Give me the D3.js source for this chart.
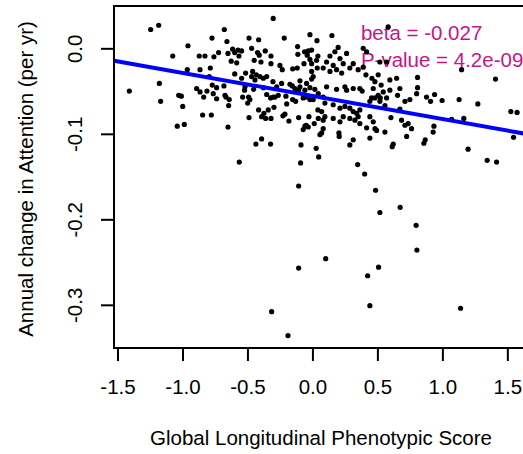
<!DOCTYPE html>
<html>
<head>
<meta charset="utf-8">
<script src="https://cdn.jsdelivr.net/npm/d3@7"></script>
<style>
  body { margin: 0; background: #fff; }
  svg { display: block; font-family: "Liberation Sans", Arial, sans-serif; }
</style>
</head>
<body>
<svg id="chart" width="523" height="454"></svg>
<script>
// data (score, annual change)
var scoreX = [
  -0.302,-1.245,-1.183,-0.678,-0.773,-0.658,-0.488,-0.414,-0.217,-0.019,0.035,-0.958,-1.075,-0.871,-0.827,-0.758,
  -0.722,-0.650,-0.614,-0.598,-0.573,-0.545,-0.625,-0.583,-0.468,-0.422,-0.363,-0.319,-0.448,-0.396,-0.319,-0.250,
  -0.232,-0.152,-0.114,-0.112,-0.060,-0.040,-0.019,-0.065,-0.117,0.042,-0.963,-0.865,-0.786,-0.794,-0.598,-0.514,
  -0.460,-0.432,-0.352,-0.304,-0.237,-0.155,-0.096,-0.045,0.006,-1.409,-1.178,-1.168,-1.029,-1.009,-0.998,-0.891,
  -0.865,-0.837,-0.812,-0.763,-0.737,-0.771,-0.737,-0.681,-0.665,-0.640,-0.645,-0.537,-0.491,-0.498,-0.522,-0.452,
  -0.352,-0.322,-0.288,-0.204,-0.129,-0.106,-0.071,-0.019,-0.845,-0.778,-1.040,-0.986,-0.650,-0.488,-0.414,-0.373,
  -0.360,-0.319,-0.296,-0.227,-0.212,-0.181,-0.106,-0.048,-0.027,0.014,0.042,-0.435,-0.391,-0.322,-0.088,0.029,
  0.048,-0.563,-0.091,0.058,-0.106,-0.106,-0.314,-0.188,0.348,0.402,0.486,0.519,0.675,0.798,0.804,0.102,
  0.509,0.425,0.442,1.140,1.345,1.417,0.583,0.150,1.148,1.409,0.809,0.809,0.878,0.940,0.998,0.909,
  1.129,1.273,1.165,1.071,1.527,1.575,1.548,1.198,0.935,0.929,0.868,0.858,0.725,0.737,0.686,0.655,
  0.673,0.604,0.622,0.614,0.519,0.522,0.558,0.481,0.442,0.417,0.314,0.288,0.204,0.206,0.083,0.071,
  -0.058,-0.071,0.506,0.529,0.481,0.458,0.412,0.365,0.383,0.391,0.519,-0.565,-0.409,-0.032,-0.006,-0.006,
  0.032,0.037,-0.006,-0.468,-0.442,-0.404,-0.378,-0.545,-0.173,-0.006,0.198,0.173,0.135,0.212,0.263,0.237,
  0.160,0.109,0.083,0.135,0.186,0.225,0.288,0.314,0.352,0.417,0.391,0.571,0.596,0.648,-0.135,-0.096,
  -0.058,-0.019,0.019,0.045,-0.519,-0.378,-0.275,-0.673,-0.481,-0.302,-0.263,-0.152,-0.050,0.006,-0.198,-0.391,
  -0.340,-0.032,0.045,0.109,0.186,0.250,0.263,0.314,0.468,0.506,0.545,0.571,0.596,0.673,0.712,0.750,
  0.802,0.083,0.096,0.160,0.212,0.250,0.288,0.314,0.340,0.365,0.442,0.455,0.071,0.096,0.083,0.160,
  0.212,0.237,0.288,0.327,0.352,0.365,0.481,0.494,0.468,0.712,0.763,0.558,0.442
];
var changeY = [
  0.035,0.022,0.027,0.022,0.012,0.008,0.012,0.010,0.012,0.016,0.009,0.003,-0.009,-0.009,-0.009,-0.010,
  -0.005,-0.006,-0.001,-0.005,-0.002,-0.003,-0.015,-0.017,0.000,-0.005,-0.003,-0.009,-0.014,-0.016,-0.018,-0.020,
  -0.025,-0.024,0.002,-0.007,-0.004,-0.008,-0.013,-0.018,-0.023,-0.009,-0.025,-0.025,-0.023,-0.033,-0.030,-0.029,
  -0.027,-0.031,-0.033,-0.039,-0.041,-0.044,-0.038,-0.041,-0.033,-0.050,-0.041,-0.062,-0.055,-0.056,-0.068,-0.047,
  -0.051,-0.057,-0.050,-0.053,-0.059,-0.043,-0.046,-0.044,-0.057,-0.060,-0.067,-0.057,-0.057,-0.064,-0.049,-0.048,
  -0.054,-0.058,-0.057,-0.056,-0.062,-0.049,-0.058,-0.060,-0.078,-0.078,-0.091,-0.089,-0.092,-0.081,-0.072,-0.076,
  -0.082,-0.082,-0.069,-0.079,-0.077,-0.085,-0.081,-0.090,-0.080,-0.088,-0.072,-0.112,-0.106,-0.112,-0.113,-0.117,
  -0.127,-0.133,-0.134,-0.101,-0.161,-0.257,-0.308,-0.336,-0.136,-0.147,-0.166,-0.192,-0.186,-0.207,-0.236,-0.246,
  -0.256,-0.266,-0.301,-0.304,-0.131,-0.133,0.025,0.015,-0.025,-0.036,-0.034,-0.046,-0.057,-0.054,-0.061,-0.062,
  -0.060,-0.065,-0.082,-0.083,-0.074,-0.075,-0.104,-0.118,-0.091,-0.098,-0.107,-0.111,-0.103,-0.088,-0.084,-0.055,
  -0.071,-0.081,-0.112,-0.115,-0.062,-0.058,-0.067,-0.058,-0.080,-0.093,-0.107,-0.113,-0.099,-0.103,-0.094,-0.099,
  -0.091,-0.095,-0.031,-0.043,-0.039,-0.035,-0.031,-0.047,-0.050,-0.022,-0.016,-0.009,-0.008,-0.003,-0.002,-0.018,
  -0.014,-0.023,-0.027,-0.033,-0.037,-0.033,-0.035,-0.035,-0.042,-0.036,0.001,-0.004,-0.009,-0.012,-0.006,-0.018,
  -0.020,-0.016,-0.023,-0.027,-0.025,-0.029,-0.023,-0.018,-0.025,-0.004,0.000,-0.016,-0.037,-0.035,-0.047,-0.045,
  -0.049,-0.046,-0.048,-0.053,-0.045,-0.046,-0.045,-0.055,-0.060,-0.057,-0.055,-0.060,-0.057,-0.060,-0.065,-0.080,
  -0.072,-0.092,-0.082,-0.045,-0.048,-0.045,-0.049,-0.047,-0.047,-0.055,-0.051,-0.058,-0.049,-0.047,-0.062,-0.060,
  -0.053,-0.057,-0.064,-0.066,-0.070,-0.068,-0.070,-0.074,-0.076,-0.072,-0.062,-0.058,-0.074,-0.080,-0.084,-0.082,
  -0.086,-0.080,-0.082,-0.084,-0.080,-0.088,-0.094,-0.096,-0.086,-0.090,-0.094,-0.098,-0.105
];

// fitted line
var beta = -0.027;
var intercept = -0.0557;
var annotations = ["beta = -0.027", "P-value = 4.2e-09"];
var annotX = 0.373;
var annotY = [0.0097, -0.0219];

var xTicks = [-1.5, -1.0, -0.5, 0.0, 0.5, 1.0, 1.5];
var yTicks = [0.0, -0.1, -0.2, -0.3];
var xLabel = "Global Longitudinal Phenotypic Score";
var yLabel = "Annual change in Attention (per yr)";

var svg = d3.select("#chart");
// plot box in pixels (right edge falls just outside the picture)
var boxLeft = 114, boxRight = 528, boxTop = 6, boxBottom = 348;
var fontSize = 20.5;

var x = d3.scaleLinear().domain([-1.527, 1.659]).range([boxLeft, boxRight]);
var y = d3.scaleLinear().domain([-0.3505, 0.0495]).range([boxBottom, boxTop]);

var points = scoreX.map(function(v, i) { return [v, changeY[i]]; });

function fmt(d) { return d3.format(".1f")(d).replace("\u2212", "-"); }

// annotation text (points are drawn over it)
svg.append("g")
  .selectAll("text")
  .data(annotations)
  .join("text")
  .attr("x", x(annotX))
  .attr("y", function(d, i) { return y(annotY[i]); })
  .attr("font-size", fontSize)
  .attr("fill", "#C71585")
  .text(function(d) { return d; });

svg.append("g")
  .selectAll("circle")
  .data(points)
  .join("circle")
  .attr("cx", function(d) { return x(d[0]); })
  .attr("cy", function(d) { return y(d[1]); })
  .attr("r", 2.6)
  .attr("fill", "#000");

var xd = x.domain();
svg.append("line")
  .attr("x1", x(xd[0])).attr("y1", y(intercept + beta * xd[0]))
  .attr("x2", x(xd[1])).attr("y2", y(intercept + beta * xd[1]))
  .attr("stroke", "#0000FF")
  .attr("stroke-width", 4);

// box
svg.append("rect")
  .attr("x", boxLeft).attr("y", boxTop)
  .attr("width", boxRight - boxLeft).attr("height", boxBottom - boxTop)
  .attr("fill", "none")
  .attr("stroke", "#000")
  .attr("stroke-width", 2);

// axes
var xAxis = d3.axisBottom(x).tickValues(xTicks).tickSize(13).tickPadding(18).tickFormat(fmt);
var gx = svg.append("g").attr("transform", "translate(0," + boxBottom + ")").call(xAxis);
gx.select(".domain").remove();
gx.selectAll("line").attr("stroke-width", 2);
gx.selectAll("text").attr("font-size", fontSize).attr("font-family", "Liberation Sans, Arial, sans-serif").attr("fill", "#000");

var yAxis = d3.axisLeft(y).tickValues(yTicks).tickSize(13).tickPadding(0).tickFormat(fmt);
var gy = svg.append("g").attr("transform", "translate(" + boxLeft + ",0)").call(yAxis);
gy.select(".domain").remove();
gy.selectAll("line").attr("stroke-width", 2);
gy.selectAll("text")
  .attr("x", null).attr("dy", null)
  .attr("text-anchor", "middle")
  .attr("transform", "translate(-32,0) rotate(-90)")
  .attr("font-size", fontSize).attr("font-family", "Liberation Sans, Arial, sans-serif").attr("fill", "#000");

svg.append("text")
  .attr("x", (boxLeft + boxRight) / 2).attr("y", 445)
  .attr("text-anchor", "middle")
  .attr("font-size", fontSize)
  .text(xLabel);

svg.append("text")
  .attr("transform", "translate(33," + ((boxTop + boxBottom) / 2 + 2) + ") rotate(-90)")
  .attr("text-anchor", "middle")
  .attr("font-size", fontSize)
  .text(yLabel);
</script>
</body>
</html>
